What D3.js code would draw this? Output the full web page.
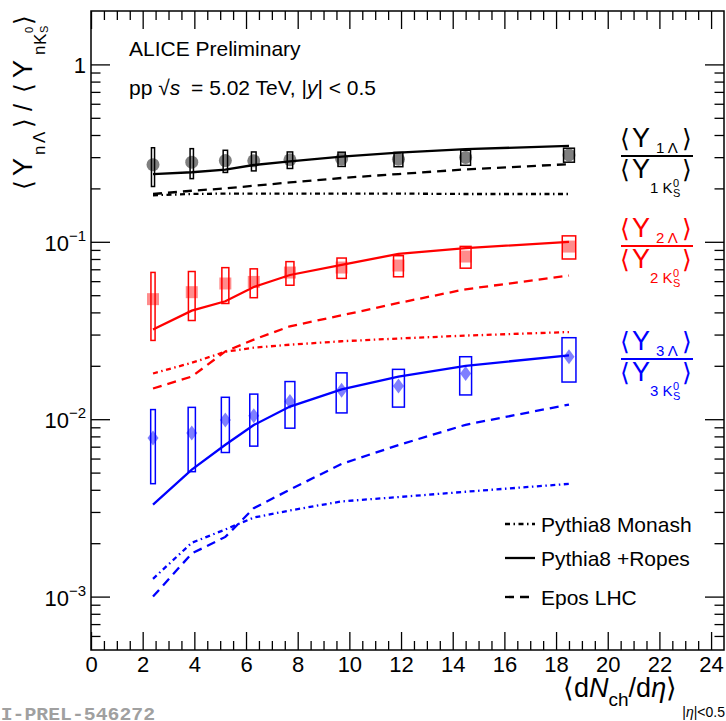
<!DOCTYPE html>
<html><head><meta charset="utf-8">
<script src="https://cdn.jsdelivr.net/npm/d3@7"></script>
<style>body{margin:0;background:#fff}</style>
</head><body>
<svg id="c" width="726" height="721" xmlns="http://www.w3.org/2000/svg"></svg>
<script>
// ---------------- data ----------------
const multiplicity = [2.4, 3.9, 5.2, 6.3, 7.7, 9.7, 11.9, 14.5, 18.5];

// n = 1 (black)
const ratio1 = [0.272, 0.281, 0.287, 0.286, 0.290, 0.293, 0.292, 0.299, 0.309];
const sys1 = [0.067, 0.054, 0.041, 0.035, 0.031, 0.027, 0.027, 0.029, 0.028];
const xSys1 = [0.06, 0.065, 0.085, 0.09, 0.105, 0.14, 0.17, 0.19, 0.21];
const monash1 = [0.183, 0.186, 0.187, 0.187, 0.187, 0.187, 0.187, 0.186, 0.186];
const ropes1 = [0.2405, 0.2466, 0.255, 0.271, 0.284, 0.302, 0.318, 0.333, 0.347];
const epos1 = [0.186, 0.194, 0.200, 0.207, 0.216, 0.229, 0.241, 0.256, 0.274];

// n = 2 (red)
const ratio2 = [0.0475, 0.052, 0.0582, 0.0594, 0.0671, 0.0716, 0.0735, 0.0826, 0.094];
const sys2 = [0.0197, 0.016, 0.0133, 0.011, 0.0102, 0.0094, 0.010, 0.0116, 0.014];
const xSys2 = [0.08, 0.13, 0.135, 0.14, 0.155, 0.18, 0.19, 0.21, 0.26];
const monash2 = [0.0181, 0.0208, 0.024, 0.0253, 0.0263, 0.0275, 0.0285, 0.0296, 0.031];
const ropes2 = [0.032, 0.0409, 0.0462, 0.0556, 0.065, 0.0741, 0.0855, 0.092, 0.100];
const epos2 = [0.0149, 0.0174, 0.0241, 0.0281, 0.0334, 0.0385, 0.0452, 0.054, 0.0645];

// n = 3 (blue)
const ratio3 = [0.00783, 0.00836, 0.00989, 0.01045, 0.0126, 0.01455, 0.0154, 0.0181, 0.0225];
const sys3 = [0.0035, 0.0033, 0.0034, 0.0034, 0.0037, 0.0037, 0.0037, 0.0044, 0.0063];
const xSys3 = [0.09, 0.14, 0.155, 0.155, 0.19, 0.21, 0.23, 0.23, 0.27];
const monash3 = [0.00126, 0.00201, 0.00239, 0.00279, 0.00306, 0.00344, 0.00364, 0.0039, 0.00432];
const ropes3 = [0.0033, 0.0052, 0.00718, 0.00927, 0.01178, 0.01473, 0.0174, 0.020, 0.0229];
const epos3 = [0.0010, 0.00175, 0.00217, 0.00315, 0.00401, 0.0056, 0.00715, 0.0093, 0.0121];

const xTickLabels = [0, 2, 4, 6, 8, 10, 12, 14, 16, 18, 20, 22, 24];
const yDecades = [1e-3, 1e-2, 1e-1, 1];
const legendLabels = ["Pythia8 Monash", "Pythia8 +Ropes", "Epos LHC"];

// ---------------- drawing ----------------
const FONT = "'Liberation Sans', Arimo, Helvetica, Arial, sans-serif";
const svg = d3.select("#c");
const x = d3.scaleLinear().domain([0, 24.5]).range([91, 724]);
const y = d3.scaleLog().domain([5e-4, 2]).range([650, 11]);

const xMinor = d3.range(0.5, 24.5, 0.5).filter(v => v % 2 !== 0);
const yMinor = [];
[1e-4, 1e-3, 1e-2, 1e-1, 1].forEach(d => { for (let k = 2; k <= 9; k++) { const v = k * d; if (v > 5.01e-4 && v < 1.99) yMinor.push(v); } });

function styleAxis(g) {
  g.select(".domain").remove();
  g.selectAll(".tick line").attr("stroke", "#000").attr("stroke-width", 1.3);
  g.attr("font-family", FONT).attr("font-size", 22);
  g.selectAll(".tick text").attr("fill", "#000");
}
// bottom
svg.append("g").attr("transform", "translate(0,650)")
  .call(d3.axisBottom(x).tickValues(xMinor).tickSizeInner(-9).tickSizeOuter(0).tickFormat("")).call(styleAxis);
svg.append("g").attr("transform", "translate(0,650)")
  .call(d3.axisBottom(x).tickValues(xTickLabels).tickSizeInner(-18).tickSizeOuter(0).tickPadding(6).tickFormat(d3.format("d"))).call(styleAxis);
// top
svg.append("g").attr("transform", "translate(0,11)")
  .call(d3.axisTop(x).tickValues(xMinor).tickSizeInner(-9).tickSizeOuter(0).tickFormat("")).call(styleAxis);
svg.append("g").attr("transform", "translate(0,11)")
  .call(d3.axisTop(x).tickValues(xTickLabels).tickSizeInner(-18).tickSizeOuter(0).tickFormat("")).call(styleAxis);
// left
svg.append("g").attr("transform", "translate(91,0)")
  .call(d3.axisLeft(y).tickValues(yMinor).tickSizeInner(-9.5).tickSizeOuter(0).tickFormat("")).call(styleAxis);
svg.append("g").attr("transform", "translate(91,0)")
  .call(d3.axisLeft(y).tickValues(yDecades).tickSizeInner(-19).tickSizeOuter(0).tickFormat("")).call(styleAxis);
// right
svg.append("g").attr("transform", "translate(724,0)")
  .call(d3.axisRight(y).tickValues(yMinor).tickSizeInner(-9.5).tickSizeOuter(0).tickFormat("")).call(styleAxis);
svg.append("g").attr("transform", "translate(724,0)")
  .call(d3.axisRight(y).tickValues(yDecades).tickSizeInner(-19).tickSizeOuter(0).tickFormat("")).call(styleAxis);

// y labels
yDecades.forEach(v => {
  const t = svg.append("text").attr("x", 86).attr("y", y(v) + 9).attr("text-anchor", "end")
    .attr("font-family", FONT).attr("font-size", 22).attr("fill", "#000");
  if (v === 1) { t.text("1"); }
  else {
    const e = Math.round(Math.log10(v));
    t.append("tspan").text("10");
    t.append("tspan").attr("dy", -10).attr("font-size", 15).text("\u2212" + Math.abs(e));
  }
});

// frame
svg.append("rect").attr("x", x(0)).attr("y", y(2)).attr("width", x(24.5) - x(0)).attr("height", y(5e-4) - y(2))
  .attr("fill", "none").attr("stroke", "#000").attr("stroke-width", 1.5);

// model lines
const DASH = "9,6", DASHDOT = "5,3.5,1.5,3.5";
const line = d3.line().x((d, i) => x(multiplicity[i])).y(d => y(d));
const series = [
  { col: "#000", ratio: ratio1, sys: sys1, xs: xSys1, m: monash1, r: ropes1, e: epos1, mk: "circle" },
  { col: "#ff0000", ratio: ratio2, sys: sys2, xs: xSys2, m: monash2, r: ropes2, e: epos2, mk: "square" },
  { col: "#0000ff", ratio: ratio3, sys: sys3, xs: xSys3, m: monash3, r: ropes3, e: epos3, mk: "diamond" }
];
series.forEach(s => {
  svg.append("path").attr("d", line(s.m)).attr("fill", "none").attr("stroke", s.col).attr("stroke-width", 2.3).attr("stroke-dasharray", DASHDOT);
  svg.append("path").attr("d", line(s.e)).attr("fill", "none").attr("stroke", s.col).attr("stroke-width", 2.3).attr("stroke-dasharray", DASH);
  svg.append("path").attr("d", line(s.r)).attr("fill", "none").attr("stroke", s.col).attr("stroke-width", 2.3);
});

// data points
series.forEach(s => {
  const g = svg.append("g");
  s.ratio.forEach((v, i) => {
    const cx = x(multiplicity[i]), cy = y(v);
    if (s.mk === "circle") g.append("circle").attr("cx", cx).attr("cy", cy).attr("r", 6.5).attr("fill", "#000").attr("fill-opacity", 0.5);
    else if (s.mk === "square") g.append("rect").attr("x", cx - 6).attr("y", cy - 6).attr("width", 12).attr("height", 12).attr("fill", "#ff0000").attr("fill-opacity", 0.45);
    else g.append("path").attr("d", `M${cx},${cy - 7.5}L${cx + 5.5},${cy}L${cx},${cy + 7.5}L${cx - 5.5},${cy}Z`).attr("fill", "#0000ff").attr("fill-opacity", 0.5);
  });
  s.ratio.forEach((v, i) => {
    const x0 = x(multiplicity[i] - s.xs[i]), x1 = x(multiplicity[i] + s.xs[i]);
    const y0 = y(v + s.sys[i]), y1 = y(v - s.sys[i]);
    g.append("rect").attr("x", x0).attr("y", y0).attr("width", x1 - x0).attr("height", y1 - y0)
      .attr("fill", "none").attr("stroke", s.col).attr("stroke-width", 1.5);
  });
});

// legend
const legY = [524, 558, 597];
const legDash = [DASHDOT, null, DASH];
legendLabels.forEach((lab, i) => {
  const l = svg.append("line").attr("x1", 505).attr("x2", 535).attr("y1", legY[i]).attr("y2", legY[i]).attr("stroke", "#000").attr("stroke-width", 2.3);
  if (legDash[i]) l.attr("stroke-dasharray", legDash[i]);
  svg.append("text").attr("x", 541).attr("y", legY[i] + 7.5).attr("font-family", FONT).attr("font-size", 21).attr("fill", "#000").text(lab);
});

// header text
svg.append("text").attr("x", 129).attr("y", 56).attr("font-family", FONT).attr("font-size", 21).text("ALICE Preliminary");
const t2 = svg.append("text").attr("x", 129).attr("y", 95).attr("font-family", FONT).attr("font-size", 21);
t2.append("tspan").text("pp \u221A");
t2.append("tspan").attr("font-style", "italic").text("s");
t2.append("tspan").attr("dx", 5).text(" = 5.02 TeV, |");
t2.append("tspan").attr("font-style", "italic").text("y");
t2.append("tspan").text("| < 0.5");

// right-hand fraction labels
function frac(col, n, ly) {
  const g = svg.append("g").attr("fill", col).attr("font-family", FONT);
  g.append("line").attr("x1", 621).attr("x2", 693).attr("y1", ly).attr("y2", ly).attr("stroke", col).attr("stroke-width", 2);
  const T = (tx, ty, fs, s) => g.append("text").attr("x", tx).attr("y", ty).attr("font-size", fs).text(s);
  T(620, ly - 9, 25, "\u27E8"); T(632, ly - 9, 27, "Y"); T(656, ly - 3, 15, n + " \u039B"); T(682, ly - 9, 25, "\u27E9");
  T(620, ly + 22, 25, "\u27E8"); T(632, ly + 22, 27, "Y"); T(650, ly + 37, 15, n + " K");
  T(673, ly + 31, 11, "0"); T(673, ly + 41, 11, "S"); T(682, ly + 22, 25, "\u27E9");
}
frac("#000", 1, 156);
frac("#ff0000", 2, 246);
frac("#0000ff", 3, 359);

// y-axis title (rotated)
{
  const g = svg.append("g").attr("transform", "rotate(-90)").attr("font-family", FONT).attr("fill", "#000");
  const T = (py, px, fs, s) => g.append("text").attr("x", -py).attr("y", px).attr("font-size", fs).text(s);
  T(190, 32, 25, "\u27E8"); T(176, 32, 27, "Y"); T(155, 45, 17, "n"); T(143, 45, 17, "\u039B");
  T(128, 32, 25, "\u27E9"); T(111, 32, 25, "/"); T(93, 32, 25, "\u27E8"); T(78, 32, 27, "Y");
  T(55, 45, 17, "n"); T(45, 46, 17, "K"); T(33, 33, 11, "0"); T(33, 48, 11, "S"); T(25, 32, 25, "\u27E9");
}

// x-axis title
{
  const t = svg.append("text").attr("x", 563).attr("y", 697).attr("font-family", FONT).attr("font-size", 27).attr("fill", "#000");
  t.append("tspan").text("\u27E8d");
  t.append("tspan").attr("font-style", "italic").text("N");
  t.append("tspan").attr("font-size", 19).attr("dy", 9).text("ch");
  t.append("tspan").attr("dy", -9).text("/d");
  t.append("tspan").attr("font-style", "italic").text("\u03B7");
  t.append("tspan").text("\u27E9");
  const t3 = svg.append("text").attr("x", 725).attr("y", 717).attr("text-anchor", "end").attr("font-family", FONT).attr("font-size", 14).attr("fill", "#000");
  t3.append("tspan").text("|");
  t3.append("tspan").attr("font-style", "italic").text("\u03B7");
  t3.append("tspan").text("|<0.5");
}

// watermark
svg.append("text").attr("x", -23).attr("y", 720).attr("font-family", "'Liberation Mono', 'DejaVu Sans Mono', monospace")
  .attr("font-weight", "bold").attr("font-size", 19).attr("textLength", 178).attr("lengthAdjust", "spacingAndGlyphs")
  .attr("fill", "#a0a0a0").text("ALI-PREL-546272");
</script>
</body></html>
